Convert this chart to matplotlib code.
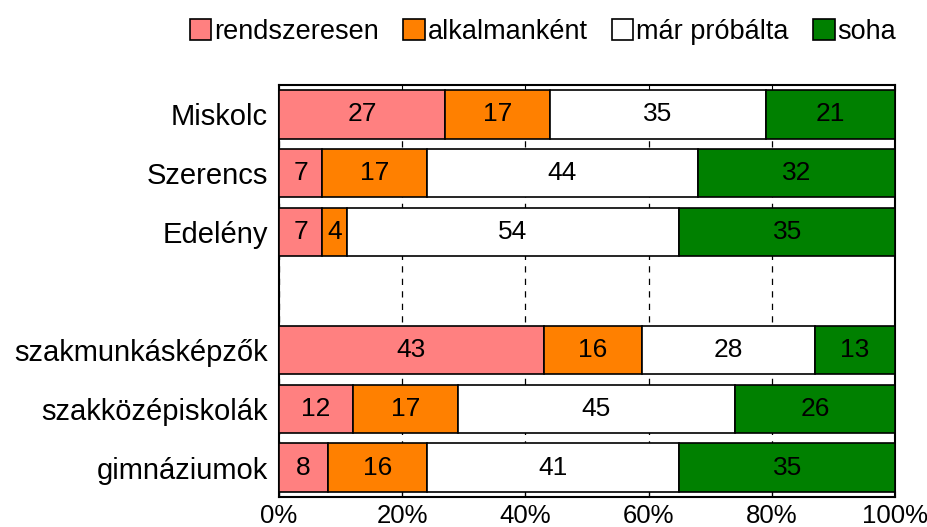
import matplotlib.pyplot as plt
import numpy as np

plt.rcParams['font.family'] = ['Liberation Sans', 'DejaVu Sans']

categories = ["Miskolc", "Szerencs", "Edelény", "", "szakmunkásképzők", "szakközépiskolák", "gimnáziumok"]
series_names = ["rendszeresen", "alkalmanként", "már próbálta", "soha"]
rendszeresen = [27, 7, 7, 0, 43, 12, 8]
alkalmankent = [17, 17, 4, 0, 16, 17, 16]
mar_probalta = [35, 44, 54, 0, 28, 45, 41]
soha = [21, 32, 35, 0, 13, 26, 35]
colors = ["#FF8080", "#FF8000", "#FFFFFF", "#008000"]

data = [rendszeresen, alkalmankent, mar_probalta, soha]

fig = plt.figure(figsize=(9.28, 5.27), dpi=100)
ax = fig.add_axes([0.3006, 0.0569, 0.6638, 0.7818])

y = np.arange(len(categories))
left = np.zeros(len(categories))
for name, vals, col in zip(series_names, data, colors):
    vals = np.array(vals, dtype=float)
    ax.barh(y, vals, left=left, height=0.82, color=col, edgecolor='black',
            linewidth=1.2, label=name, zorder=3)
    for yi, v, l in zip(y, vals, left):
        if v > 0:
            ax.text(l + v / 2, yi, f"{int(v)}", ha='center', va='center',
                    fontsize=19, color='black', zorder=4)
    left += vals

ax.set_xlim(0, 100)
ax.set_ylim(len(categories) - 0.5, -0.5)
ax.set_xticks([0, 20, 40, 60, 80, 100])
ax.set_xticklabels(["0%", "20%", "40%", "60%", "80%", "100%"], fontsize=18.5)
ax.set_yticks(y)
ax.set_yticklabels(categories, fontsize=21)
ax.tick_params(axis='x', direction='in', top=True, bottom=True, length=4, pad=5)
ax.tick_params(axis='y', length=0, pad=8)
ax.xaxis.grid(True, linestyle=(0, (5, 5)), color='black', linewidth=0.9, zorder=0)
ax.set_axisbelow(True)
for s in ax.spines.values():
    s.set_linewidth(1.5)

fig.legend(loc='upper center', bbox_to_anchor=(0.585, 0.995), ncol=4, frameon=False,
           fontsize=19.5, handlelength=0.8, handleheight=0.8, handletextpad=0.1,
           columnspacing=0.9, borderaxespad=0.2)

fig.savefig("out.png", dpi=100)
